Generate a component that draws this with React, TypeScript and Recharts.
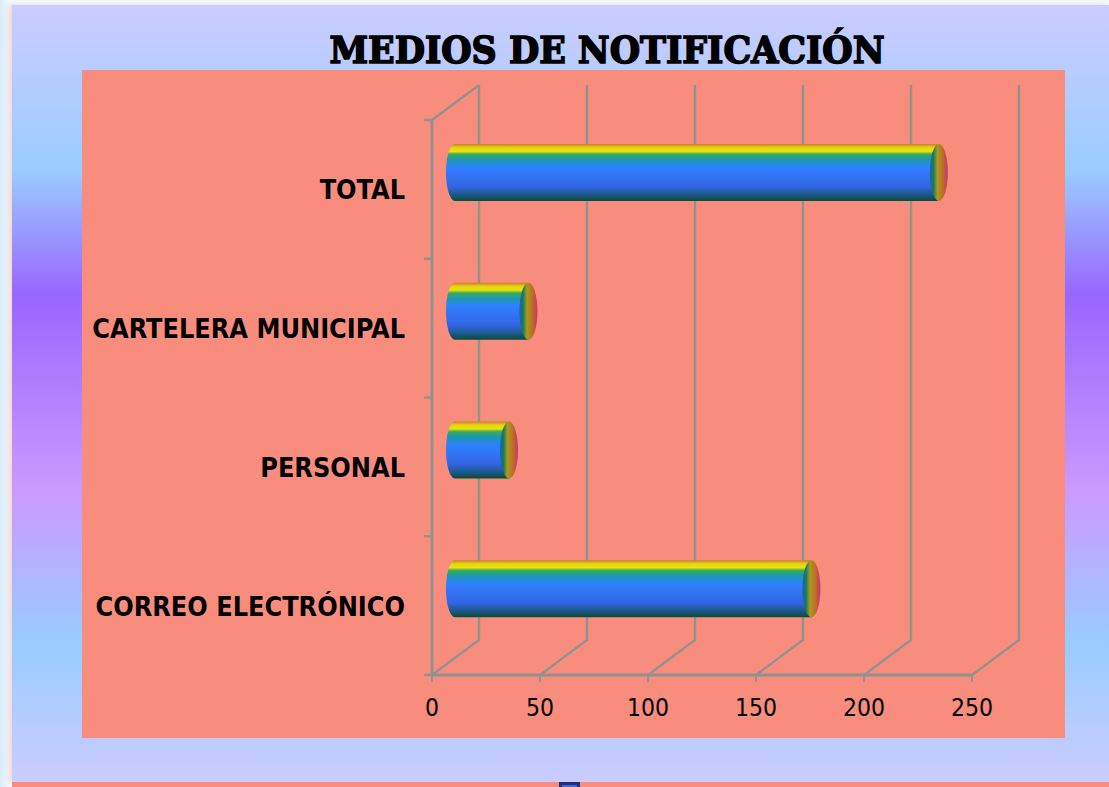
import React from "react";
import { BarChart, Bar, XAxis, YAxis } from "recharts";

const categories = ["TOTAL", "CARTELERA MUNICIPAL", "PERSONAL", "CORREO ELECTRÓNICO"];
const values = [224, 34, 25, 165];
const xTicks = [0, 50, 100, 150, 200, 250];
const title = "MEDIOS DE NOTIFICACIÓN";

const data = categories.map((name, i) => ({ name, value: values[i] }));

const WALL = "#919290";
const DX = 47;
const DY = 35;
const BAND = 138.75;
const LABEL_FONT = "'DejaVu Sans Condensed', 'DejaVu Sans', sans-serif";

const XTick = (props: any) => {
  const { x, payload } = props;
  const axisY = 675;
  return (
    <g>
      <line x1={x} y1={axisY} x2={x} y2={axisY + 7} stroke={WALL} strokeWidth={2} />
      <polyline
        points={`${x},${axisY} ${x + DX},${axisY - DY} ${x + DX},${axisY - DY - 555}`}
        fill="none"
        stroke={WALL}
        strokeWidth={2.4}
      />
      <text x={x} y={716} textAnchor="middle" fontFamily={LABEL_FONT} fontSize={24.5} fill="#000">
        {payload.value}
      </text>
    </g>
  );
};

const YTick = (props: any) => {
  const { y, payload, index } = props;
  const axisX = 432;
  const top = y - BAND / 2;
  return (
    <g>
      <line x1={axisX - 8} y1={top} x2={axisX} y2={top} stroke={WALL} strokeWidth={2.4} />
      {index === categories.length - 1 && (
        <line x1={axisX - 8} y1={top + BAND} x2={axisX} y2={top + BAND} stroke={WALL} strokeWidth={2.4} />
      )}
      {index === 0 && (
        <line x1={axisX} y1={top} x2={axisX + DX} y2={top - DY} stroke={WALL} strokeWidth={2.4} />
      )}
      <text
        x={405}
        y={y + 10}
        textAnchor="end"
        fontFamily={LABEL_FONT}
        fontWeight={700}
        fontSize={26.8}
        fill="#000"
      >
        {payload.value}
      </text>
    </g>
  );
};

const Cylinder = (props: any) => {
  const { x, y, width, height } = props;
  const ox = 23;
  const oy = -17;
  const x0 = x + ox;
  const x1 = x + width + ox;
  const top = y + oy;
  const bot = y + height + oy;
  const rx = 9;
  const ry = height / 2;
  return (
    <g>
      <path
        d={`M${x0},${top} L${x1},${top} L${x1},${bot} L${x0},${bot} A${rx},${ry} 0 0 1 ${x0},${top} Z`}
        fill="url(#cylBody)"
      />
      <ellipse cx={x1} cy={top + ry} rx={rx} ry={ry} fill="url(#cylCap)" />
    </g>
  );
};

const layer: React.CSSProperties = { position: "absolute", left: 0, top: 0 };

export default function App() {
  return (
    <div style={{ position: "absolute", left: 0, top: 0, width: 1109, height: 787, overflow: "hidden", background: "linear-gradient(90deg,#d9ecfb 0,#f4fafe 10px)" }}>
      <div
        style={{
          position: "absolute",
          left: 12,
          top: 5,
          width: 1097,
          height: 777,
          boxShadow: "-3px 0 5px rgba(250,140,124,0.35)",
          background:
            "linear-gradient(180deg,#ccccff 0,#9accff 165px,#9966ff 290px,#cc99ff 485px,#99ccff 640px,#ccccff 777px)",
        }}
      />
      <div style={{ position: "absolute", left: 12, top: 782, width: 1097, height: 5, background: "#f98d7d" }} />
      <div style={{ position: "absolute", left: 559, top: 782, width: 15, height: 5, background: "#4a62c4", border: "3px solid #1f2f80", borderBottom: "none" }} />
      <div style={{ position: "absolute", left: 82, top: 70, width: 983, height: 668, background: "#f98d7d" }} />
      <div style={layer}>
        <BarChart
          width={1109}
          height={787}
          layout="vertical"
          data={data}
          margin={{ left: 92, right: 137, top: 120, bottom: 52 }}
        >
          <XAxis
            type="number"
            domain={[0, 250]}
            ticks={xTicks}
            height={60}
            interval={0}
            axisLine={{ stroke: WALL, strokeWidth: 3 }}
            tickLine={false}
            tick={<XTick />}
          />
          <YAxis
            type="category"
            dataKey="name"
            width={340}
            interval={0}
            axisLine={{ stroke: WALL, strokeWidth: 3 }}
            tickLine={false}
            tick={<YTick />}
          />
          <Bar dataKey="value" fill="none" barSize={57} isAnimationActive={false} />
          <text
            x={607}
            y={63}
            textAnchor="middle"
            textLength={555}
            lengthAdjust="spacingAndGlyphs"
            fontFamily="'DejaVu Serif', serif"
            fontWeight={700}
            fontSize={37}
            fill="#000"
            stroke="#000"
            strokeWidth={1.6}
          >
            {title}
          </text>
        </BarChart>
      </div>
      <div style={layer}>
        <BarChart
          width={1109}
          height={787}
          layout="vertical"
          data={data}
          margin={{ left: 432, right: 137, top: 120, bottom: 112 }}
        >
          <defs>
            <linearGradient id="cylBody" x1="0" y1="0" x2="0" y2="1">
              <stop offset="0" stopColor="#c47f2c" />
              <stop offset="0.06" stopColor="#e8d010" />
              <stop offset="0.13" stopColor="#e6e608" />
              <stop offset="0.18" stopColor="#3aa860" />
              <stop offset="0.28" stopColor="#1a98b0" />
              <stop offset="0.4" stopColor="#2f80ff" />
              <stop offset="0.74" stopColor="#3366e6" />
              <stop offset="0.88" stopColor="#1e5a90" />
              <stop offset="1" stopColor="#0b4a3a" />
            </linearGradient>
            <linearGradient id="cylCap" x1="0" y1="0" x2="1" y2="0">
              <stop offset="0" stopColor="#1b62b0" />
              <stop offset="0.2" stopColor="#1a7a5a" />
              <stop offset="0.42" stopColor="#a89a20" />
              <stop offset="0.75" stopColor="#bd6a24" />
              <stop offset="1" stopColor="#c8307a" />
            </linearGradient>
          </defs>
          <XAxis type="number" domain={[0, 250]} ticks={xTicks} hide />
          <YAxis type="category" dataKey="name" hide />
          <Bar dataKey="value" barSize={57} isAnimationActive={false} shape={<Cylinder />} />
        </BarChart>
      </div>
    </div>
  );
}
